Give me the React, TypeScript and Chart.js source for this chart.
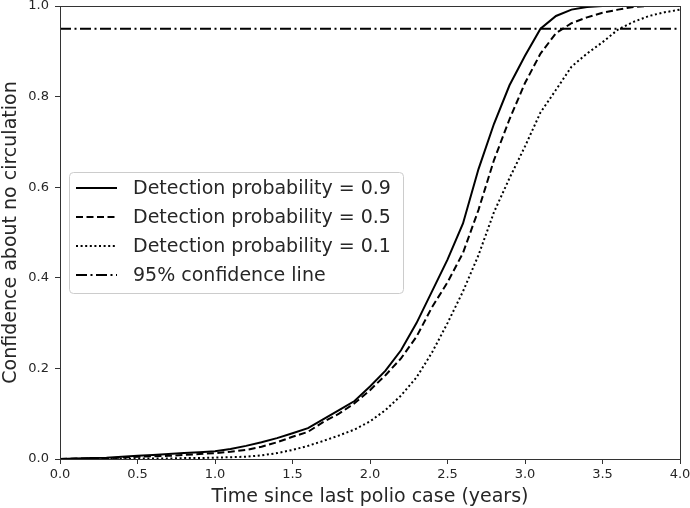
import React, { useEffect, useRef } from "react";
import { Chart, registerables } from "chart.js";

Chart.register(...registerables);

const years = [
  0.0, 0.1, 0.2, 0.3, 0.4, 0.5, 0.6, 0.7, 0.8, 0.9,
  1.0, 1.1, 1.2, 1.3, 1.4, 1.5, 1.6, 1.7, 1.8, 1.9,
  2.0, 2.1, 2.2, 2.3, 2.4, 2.5, 2.6, 2.7, 2.8, 2.9,
  3.0, 3.1, 3.2, 3.3, 3.4, 3.5, 3.6, 3.7, 3.8, 3.9, 4.0,
];

const prob09 = [
  0.0, 0.001, 0.002, 0.003, 0.005, 0.007, 0.009, 0.011, 0.013, 0.015,
  0.017, 0.022, 0.029, 0.037, 0.046, 0.057, 0.068, 0.088, 0.108, 0.128,
  0.16, 0.195, 0.24, 0.3, 0.37, 0.44, 0.52, 0.64, 0.74, 0.825,
  0.89, 0.95, 0.978, 0.992, 0.998, 1.0, 1.0, 1.0, 1.0, 1.0, 1.0,
];

const prob05 = [
  0.0, 0.001, 0.001, 0.002, 0.003, 0.005, 0.006, 0.007, 0.009, 0.011,
  0.013, 0.016, 0.02, 0.027, 0.037, 0.049, 0.06, 0.082, 0.1, 0.123,
  0.152, 0.185, 0.222, 0.27, 0.335, 0.39, 0.455, 0.55, 0.66, 0.75,
  0.83, 0.895, 0.94, 0.962, 0.975, 0.985, 0.992, 0.998, 1.0, 1.0, 1.0,
];

const prob01 = [
  0.0, 0.0, 0.0, 0.0, 0.0, 0.001, 0.001, 0.001, 0.002, 0.002,
  0.003, 0.004, 0.005, 0.008, 0.013, 0.02, 0.029, 0.04, 0.052, 0.065,
  0.083, 0.108, 0.14, 0.18, 0.235, 0.3, 0.37, 0.45, 0.545, 0.62,
  0.69, 0.765, 0.815, 0.866, 0.895, 0.92, 0.948, 0.965, 0.978, 0.986, 0.992,
];

const confYears = [0.0, 4.0];
const confLevel = [0.95, 0.95];

const seriesLabels = [
  "Detection probability = 0.9",
  "Detection probability = 0.5",
  "Detection probability = 0.1",
  "95% confidence line",
];

const xTicks = [0.0, 0.5, 1.0, 1.5, 2.0, 2.5, 3.0, 3.5, 4.0];
const yTicks = [0.0, 0.2, 0.4, 0.6, 0.8, 1.0];

const FONT = "'DejaVu Sans', sans-serif";
const TEXT = "#262626";
const AXIS = "#333333";

const toPoints = (xs: number[], ys: number[]) => xs.map((x, i) => ({ x, y: ys[i] }));

const frameAndLegend = {
  id: "frameAndLegend",
  afterDatasetsDraw(chart: any) {
    const { ctx, chartArea } = chart;
    ctx.save();
    ctx.strokeStyle = AXIS;
    ctx.lineWidth = 1;
    ctx.setLineDash([]);
    ctx.strokeRect(
      Math.round(chartArea.left) + 0.5,
      Math.round(chartArea.top) + 0.5,
      Math.round(chartArea.right - chartArea.left),
      Math.round(chartArea.bottom - chartArea.top)
    );

    // legend
    const bx = 69.5, by = 172.5, bw = 334, bh = 121, r = 4;
    ctx.beginPath();
    ctx.moveTo(bx + r, by);
    ctx.lineTo(bx + bw - r, by);
    ctx.quadraticCurveTo(bx + bw, by, bx + bw, by + r);
    ctx.lineTo(bx + bw, by + bh - r);
    ctx.quadraticCurveTo(bx + bw, by + bh, bx + bw - r, by + bh);
    ctx.lineTo(bx + r, by + bh);
    ctx.quadraticCurveTo(bx, by + bh, bx, by + bh - r);
    ctx.lineTo(bx, by + r);
    ctx.quadraticCurveTo(bx, by, bx + r, by);
    ctx.closePath();
    ctx.fillStyle = "rgba(255,255,255,0.85)";
    ctx.fill();
    ctx.strokeStyle = "#cccccc";
    ctx.stroke();

    const ds = chart.data.datasets;
    ctx.font = `19px ${FONT}`;
    ctx.textBaseline = "middle";
    ctx.textAlign = "left";
    for (let i = 0; i < ds.length; i++) {
      const cy = 188 + i * 29;
      ctx.beginPath();
      ctx.strokeStyle = ds[i].borderColor;
      ctx.lineWidth = ds[i].borderWidth;
      ctx.lineCap = "butt";
      ctx.setLineDash(ds[i].borderDash || []);
      ctx.moveTo(76, cy);
      ctx.lineTo(117, cy);
      ctx.stroke();
      ctx.setLineDash([]);
      ctx.fillStyle = TEXT;
      ctx.fillText(ds[i].label, 133, cy + 1);
    }
    ctx.restore();
  },
};

export default function App() {
  const ref = useRef<HTMLCanvasElement | null>(null);

  useEffect(() => {
    document.body.style.margin = "0";
    if (!ref.current) return;
    const chart = new Chart(ref.current, {
      type: "line",
      data: {
        datasets: [
          {
            label: seriesLabels[0],
            data: toPoints(years, prob09),
            borderColor: "#000000",
            borderWidth: 2,
            pointRadius: 0,
            tension: 0,
          },
          {
            label: seriesLabels[1],
            data: toPoints(years, prob05),
            borderColor: "#000000",
            borderWidth: 2,
            borderDash: [7, 3.5],
            pointRadius: 0,
            tension: 0,
          },
          {
            label: seriesLabels[2],
            data: toPoints(years, prob01),
            borderColor: "#000000",
            borderWidth: 2,
            borderDash: [2, 2.6],
            pointRadius: 0,
            tension: 0,
          },
          {
            label: seriesLabels[3],
            data: toPoints(confYears, confLevel),
            borderColor: "#000000",
            borderWidth: 2,
            borderDash: [11, 3.5, 2, 3.5],
            pointRadius: 0,
            tension: 0,
          },
        ] as any,
      },
      options: {
        animation: false,
        responsive: false,
        maintainAspectRatio: false,
        layout: { padding: { top: 6, right: 10, left: 0, bottom: 0 } },
        plugins: {
          legend: { display: false },
          tooltip: { enabled: false },
        },
        scales: {
          x: {
            type: "linear",
            min: 0,
            max: 4,
            afterBuildTicks: (scale: any) => {
              scale.ticks = xTicks.map((v) => ({ value: v }));
            },
            afterFit: (scale: any) => {
              scale.height = 49;
              scale.paddingLeft = 0;
              scale.paddingRight = 0;
            },
            ticks: {
              font: { family: FONT, size: 13 },
              color: TEXT,
              padding: 3,
              maxRotation: 0,
              callback: (v: any) => Number(v).toFixed(1),
            },
            grid: {
              display: true,
              drawOnChartArea: false,
              drawTicks: true,
              tickLength: 5,
              color: AXIS,
            },
            border: { display: true, color: AXIS },
            title: {
              display: true,
              text: "Time since last polio case (years)",
              font: { family: FONT, size: 19 },
              color: TEXT,
              padding: { top: 0, bottom: 0 },
            },
          },
          y: {
            type: "linear",
            min: 0,
            max: 1,
            afterBuildTicks: (scale: any) => {
              scale.ticks = yTicks.map((v) => ({ value: v }));
            },
            afterFit: (scale: any) => {
              scale.width = 60;
              scale.paddingTop = 0;
              scale.paddingBottom = 0;
            },
            ticks: {
              font: { family: FONT, size: 13 },
              color: TEXT,
              padding: 6,
              callback: (v: any) => Number(v).toFixed(1),
            },
            grid: {
              display: true,
              drawOnChartArea: false,
              drawTicks: true,
              tickLength: 5,
              color: AXIS,
            },
            border: { display: true, color: AXIS },
            title: {
              display: true,
              text: "Confidence about no circulation",
              font: { family: FONT, size: 19 },
              color: TEXT,
              padding: { top: 0, bottom: 0 },
            },
          },
        },
      },
      plugins: [frameAndLegend],
    });
    return () => chart.destroy();
  }, []);

  return (
    <div style={{ width: 690, height: 508, background: "#fff" }}>
      <canvas ref={ref} width={690} height={508} style={{ display: "block" }} />
    </div>
  );
}
